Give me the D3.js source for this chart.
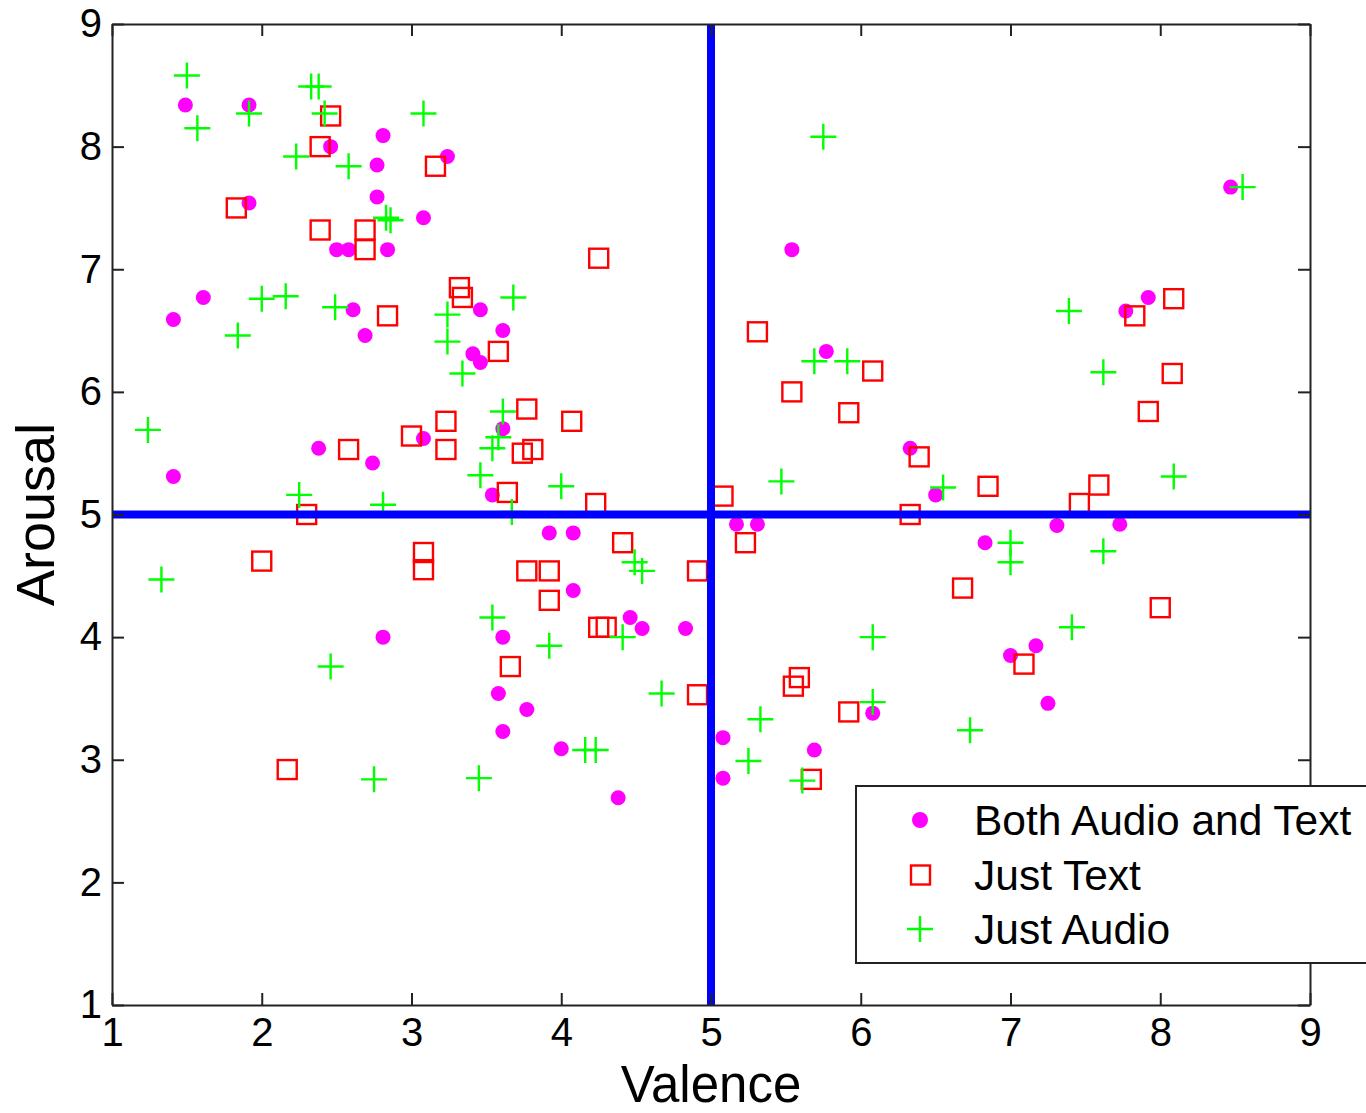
<!DOCTYPE html>
<html>
<head>
<meta charset="utf-8">
<script src="https://cdn.jsdelivr.net/npm/d3@7"></script>
<style>
  body { margin: 0; background: #fff; }
  text { font-family: "Liberation Sans", Arial, sans-serif; fill: #000; }
</style>
</head>
<body>
<div id="chart"></div>
<script>
// valence / arousal pairs
var bothAudioText = [
  [1.49,8.34],[1.915,8.34],[2.81,8.09],[2.46,8.0],[3.24,7.92],[2.77,7.85],[1.915,7.54],[2.77,7.59],
  [3.08,7.42],[2.50,7.16],[2.58,7.16],[2.84,7.16],[1.61,6.77],[1.41,6.59],[2.61,6.67],[2.69,6.46],
  [3.46,6.67],[3.61,6.50],[3.41,6.31],[3.46,6.24],[2.38,5.54],[2.74,5.42],[3.08,5.62],[1.41,5.31],
  [3.54,5.16],[3.61,5.70],[2.81,4.0],[3.92,4.85],[4.08,4.85],[4.08,4.38],[3.61,4.0],[4.46,4.16],
  [4.54,4.07],[4.83,4.07],[3.58,3.54],[3.77,3.41],[3.61,3.23],[4.0,3.09],[4.38,2.69],[5.08,3.18],
  [5.08,2.85],[5.17,4.92],[5.31,4.92],[5.69,3.08],[6.08,3.38],[6.50,5.16],[6.83,4.77],[5.54,7.16],
  [5.77,6.33],[6.33,5.54],[8.47,7.67],[7.77,6.66],[7.92,6.77],[7.31,4.91],[7.73,4.92],[7.17,3.93],
  [7.0,3.85],[7.25,3.46]
];

var justText = [
  [2.46,8.25],[2.39,8.0],[3.16,7.84],[1.83,7.50],[2.39,7.32],[2.69,7.32],[2.69,7.16],[2.84,6.62],
  [3.32,6.85],[3.34,6.77],[3.58,6.33],[4.25,7.09],[3.77,5.86],[4.07,5.76],[3.23,5.76],[3.23,5.53],
  [3.00,5.64],[2.58,5.53],[3.74,5.50],[3.81,5.53],[3.64,5.18],[4.23,5.09],[5.08,5.15],[2.30,5.0],
  [2.0,4.62],[3.08,4.69],[3.08,4.55],[4.41,4.77],[3.77,4.54],[3.92,4.54],[3.92,4.30],[4.25,4.08],
  [4.30,4.08],[3.66,3.76],[4.91,4.54],[4.91,3.53],[5.23,4.77],[6.33,5.0],[6.68,4.40],[5.59,3.67],
  [5.55,3.60],[5.92,3.39],[5.67,2.84],[2.17,2.92],[5.31,6.49],[6.08,6.17],[5.54,6.0],[5.92,5.83],
  [6.39,5.47],[6.85,5.23],[8.09,6.76],[7.83,6.62],[8.08,6.15],[7.92,5.84],[7.59,5.24],[7.46,5.09],
  [8.0,4.24],[7.09,3.78]
];

var justAudio = [
  [1.50,8.58],[1.57,8.15],[1.915,8.27],[2.33,8.49],[2.38,8.49],[2.42,8.27],[2.23,7.92],[2.58,7.84],
  [3.08,8.27],[2.83,7.42],[2.86,7.40],[2.0,6.76],[2.16,6.78],[2.49,6.69],[1.84,6.46],[3.24,6.63],
  [3.24,6.41],[3.34,6.15],[3.68,6.77],[3.61,5.84],[3.58,5.63],[3.54,5.54],[3.46,5.32],[4.0,5.23],
  [3.67,5.02],[1.24,5.69],[1.33,4.47],[2.25,5.16],[2.81,5.08],[3.54,4.16],[4.49,4.61],[4.54,4.54],
  [3.92,3.93],[4.41,4.0],[4.67,3.54],[4.16,3.08],[4.23,3.08],[3.45,2.85],[2.46,3.76],[2.75,2.84],
  [5.25,2.99],[6.08,4.0],[6.08,3.47],[5.33,3.33],[5.61,2.83],[6.73,3.24],[5.75,8.08],[5.69,6.25],
  [5.91,6.25],[5.47,5.27],[6.55,5.22],[8.55,7.67],[7.39,6.66],[7.62,6.16],[8.09,5.31],[7.0,4.77],
  [7.0,4.61],[7.62,4.70],[7.41,4.08]
];

var tickValues = [1, 2, 3, 4, 5, 6, 7, 8, 9];
var legendLabels = ["Both Audio and Text", "Just Text", "Just Audio"];
var dividers = { valence: 5, arousal: 5 };

(function () {
  "use strict";

  var W = 1366, H = 1113;
  var plotLeft = 112, plotRight = 1310, plotTop = 24, plotBottom = 1005;

  var svg = d3.select("#chart").append("svg")
    .attr("width", W).attr("height", H);

  var x = d3.scaleLinear().domain([1, 9]).range([plotLeft, plotRight]);
  var y = d3.scaleLinear().domain([1, 9]).range([plotBottom, plotTop]);

  // markers: dots, then squares, then pluses
  svg.append("g").selectAll("circle")
    .data(bothAudioText).enter().append("circle")
      .attr("cx", function (d) { return x(d[0]); })
      .attr("cy", function (d) { return y(d[1]); })
      .attr("r", 7.5)
      .attr("fill", "#ff00ff");

  var sq = 19;
  svg.append("g").selectAll("rect")
    .data(justText).enter().append("rect")
      .attr("x", function (d) { return x(d[0]) - sq / 2; })
      .attr("y", function (d) { return y(d[1]) - sq / 2; })
      .attr("width", sq).attr("height", sq)
      .attr("fill", "none").attr("stroke", "#ff0000").attr("stroke-width", 2.4);

  var plus = function (cx, cy, h) {
    return "M" + (cx - h) + "," + cy + "H" + (cx + h) + "M" + cx + "," + (cy - h) + "V" + (cy + h);
  };
  svg.append("g").selectAll("path")
    .data(justAudio).enter().append("path")
      .attr("d", function (d) { return plus(x(d[0]), y(d[1]), 13); })
      .attr("fill", "none").attr("stroke", "#00ff00").attr("stroke-width", 2.4);

  // quadrant lines
  svg.append("line")
    .attr("x1", x(dividers.valence)).attr("x2", x(dividers.valence))
    .attr("y1", y(1)).attr("y2", y(9))
    .attr("stroke", "#0000ff").attr("stroke-width", 8);
  svg.append("line")
    .attr("x1", x(1)).attr("x2", x(9))
    .attr("y1", y(dividers.arousal)).attr("y2", y(dividers.arousal))
    .attr("stroke", "#0000ff").attr("stroke-width", 8);

  // axes, ticks inward on all four sides
  var fmt = d3.format("d");
  var axes = [
    d3.axisBottom(x).tickValues(tickValues).tickSizeInner(-12).tickSizeOuter(0).tickPadding(13).tickFormat(fmt),
    d3.axisTop(x).tickValues(tickValues).tickSizeInner(-12).tickSizeOuter(0).tickFormat(""),
    d3.axisLeft(y).tickValues(tickValues).tickSizeInner(-12).tickSizeOuter(0).tickPadding(10).tickFormat(fmt),
    d3.axisRight(y).tickValues(tickValues).tickSizeInner(-12).tickSizeOuter(0).tickFormat("")
  ];
  var shifts = [[0, plotBottom], [0, plotTop], [plotLeft, 0], [plotRight, 0]];
  axes.forEach(function (ax, i) {
    var g = svg.append("g")
      .attr("transform", "translate(" + shifts[i][0] + "," + shifts[i][1] + ")")
      .call(ax);
    g.select(".domain").attr("stroke", "#222").attr("stroke-width", 2);
    g.selectAll(".tick line").attr("stroke", "#222").attr("stroke-width", 2);
    g.selectAll(".tick text")
      .style("font-family", "'Liberation Sans', Arial, sans-serif")
      .style("font-size", "40px").attr("fill", "#000");
  });

  // axis titles
  svg.append("text")
    .attr("x", (plotLeft + plotRight) / 2).attr("y", 1102)
    .attr("text-anchor", "middle")
    .style("font-size", "51px")
    .text("Valence");
  svg.append("text")
    .attr("transform", "translate(54," + y(5) + ") rotate(-90)")
    .attr("text-anchor", "middle")
    .style("font-size", "54px")
    .text("Arousal");

  // legend
  var lg = svg.append("g").attr("transform", "translate(856,786)");
  lg.append("rect")
    .attr("width", 520).attr("height", 177)
    .attr("fill", "#fff").attr("stroke", "#222").attr("stroke-width", 2);

  var rowY = [34, 89, 143];
  lg.append("circle").attr("cx", 64).attr("cy", rowY[0]).attr("r", 8).attr("fill", "#ff00ff");
  lg.append("rect").attr("x", 55).attr("y", rowY[1] - 9.5).attr("width", 19).attr("height", 19)
    .attr("fill", "none").attr("stroke", "#ff0000").attr("stroke-width", 2.4);
  lg.append("path").attr("d", plus(64, rowY[2], 13))
    .attr("fill", "none").attr("stroke", "#00ff00").attr("stroke-width", 2.4);

  lg.selectAll("text.lab")
    .data(legendLabels).enter().append("text")
      .attr("class", "lab")
      .attr("x", 118)
      .attr("y", function (d, i) { return rowY[i] + 15; })
      .style("font-size", "42.5px")
      .text(function (d) { return d; });
}());
</script>
</body>
</html>
